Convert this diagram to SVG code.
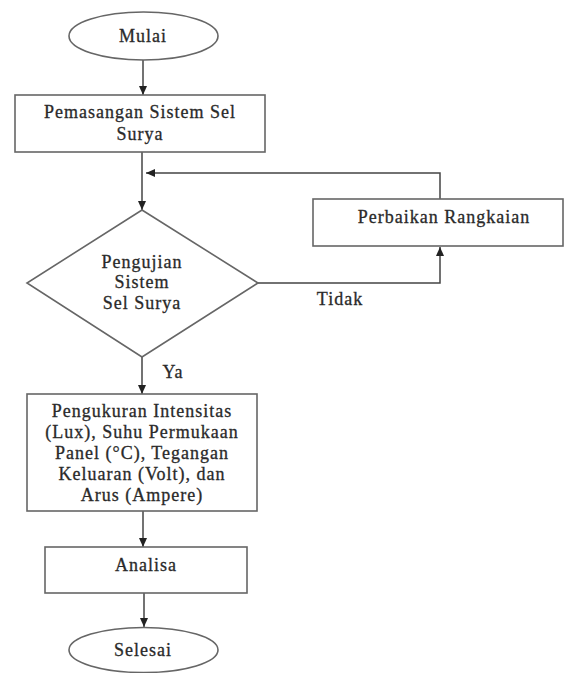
<svg xmlns="http://www.w3.org/2000/svg" width="564" height="673" viewBox="0 0 564 673">
<style>
.s{fill:#fff;stroke:#666;stroke-width:1.6}
.t{font-family:"Liberation Serif","Times New Roman",serif;font-size:18px;letter-spacing:1px;fill:#2a2a2a;stroke:#2a2a2a;stroke-width:0.3;text-anchor:middle}
.c{fill:none;stroke:#444;stroke-width:1.5}
</style>
<defs>
<marker id="a" markerWidth="10" markerHeight="10" refX="9" refY="5" orient="auto" markerUnits="userSpaceOnUse">
<path d="M0,1 L9,5 L0,9 Z" fill="#222"/>
</marker>
</defs>
<rect width="564" height="673" fill="#fff"/>
<g id="connectors">
<path class="c" d="M143,60 V95" marker-end="url(#a)"/>
<path class="c" d="M142,152 V210" marker-end="url(#a)"/>
<path class="c" d="M440,199 V173 H146" marker-end="url(#a)"/>
<path class="c" d="M258,283 H440 V247" marker-end="url(#a)"/>
<path class="c" d="M142,357 V394" marker-end="url(#a)"/>
<path class="c" d="M143,511 V547" marker-end="url(#a)"/>
<path class="c" d="M144,593 V627" marker-end="url(#a)"/>
<text class="t" x="340" y="305">Tidak</text>
<text class="t" x="173" y="378">Ya</text>
</g>
<g id="mulai">
<ellipse class="s" cx="143.5" cy="36" rx="74.5" ry="24"/>
<text class="t" x="143" y="42">Mulai</text>
</g>
<g id="pemasangan">
<rect class="s" x="15" y="95" width="250" height="57"/>
<text class="t" x="140" y="118">Pemasangan Sistem Sel</text>
<text class="t" x="140" y="140">Surya</text>
</g>
<g id="pengujian">
<polygon class="s" points="142,210 258,283 142,357 27,283"/>
<text class="t" x="142" y="268">Pengujian</text>
<text class="t" x="142" y="288">Sistem</text>
<text class="t" x="142" y="309">Sel Surya</text>
</g>
<g id="perbaikan">
<rect class="s" x="313" y="199" width="250" height="47"/>
<text class="t" x="444" y="223">Perbaikan Rangkaian</text>
</g>
<g id="pengukuran">
<rect class="s" x="27" y="394" width="230" height="117"/>
<text class="t" x="142" y="417">Pengukuran Intensitas</text>
<text class="t" x="142" y="438">(Lux), Suhu Permukaan</text>
<text class="t" x="142" y="459">Panel (°C), Tegangan</text>
<text class="t" x="142" y="480">Keluaran (Volt), dan</text>
<text class="t" x="142" y="501">Arus (Ampere)</text>
</g>
<g id="analisa">
<rect class="s" x="45" y="547" width="202" height="46"/>
<text class="t" x="146" y="571">Analisa</text>
</g>
<g id="selesai">
<ellipse class="s" cx="143.5" cy="650" rx="74.5" ry="22.5"/>
<text class="t" x="143" y="656">Selesai</text>
</g>
</svg>
